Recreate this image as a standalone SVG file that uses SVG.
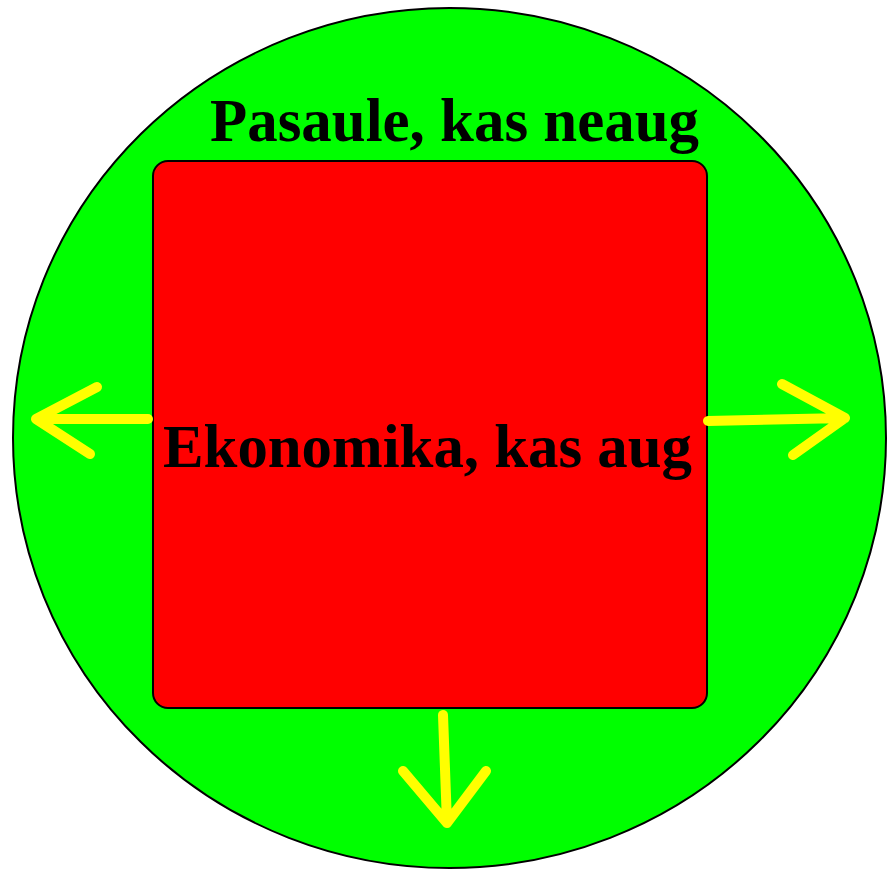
<svg xmlns="http://www.w3.org/2000/svg" width="887" height="870" viewBox="0 0 887 870">
<style>
.lbl{font-family:"Liberation Serif","Times New Roman",serif;font-weight:bold;font-size:61px;fill:#000}
.arr{fill:none;stroke:#ffff00;stroke-width:10;stroke-linecap:round;stroke-linejoin:round}
</style>
<rect width="887" height="870" fill="#fff"/>
<g id="world">
<ellipse cx="449.5" cy="438" rx="436.5" ry="430" fill="#00ff00" stroke="#000" stroke-width="2"/>
<text class="lbl" x="210" y="141" textLength="489" lengthAdjust="spacingAndGlyphs">Pasaule, kas neaug</text>
</g>
<g id="economy">
<rect x="153" y="161" width="554" height="547" rx="15" ry="15" fill="#ff0000" stroke="#000" stroke-width="2"/>
<text class="lbl" x="163" y="467" textLength="529" lengthAdjust="spacingAndGlyphs">Ekonomika, kas aug</text>
</g>
<g id="connectors">
<path class="arr" d="M148 419 L36 419 M97 387 L36 419 L90 454"/>
<path class="arr" d="M708 421 L845 418 M782 384 L845 418 L793 455"/>
<path class="arr" d="M443 715 L447 823 M403 771 L447 823 L486 771"/>
</g>
</svg>
